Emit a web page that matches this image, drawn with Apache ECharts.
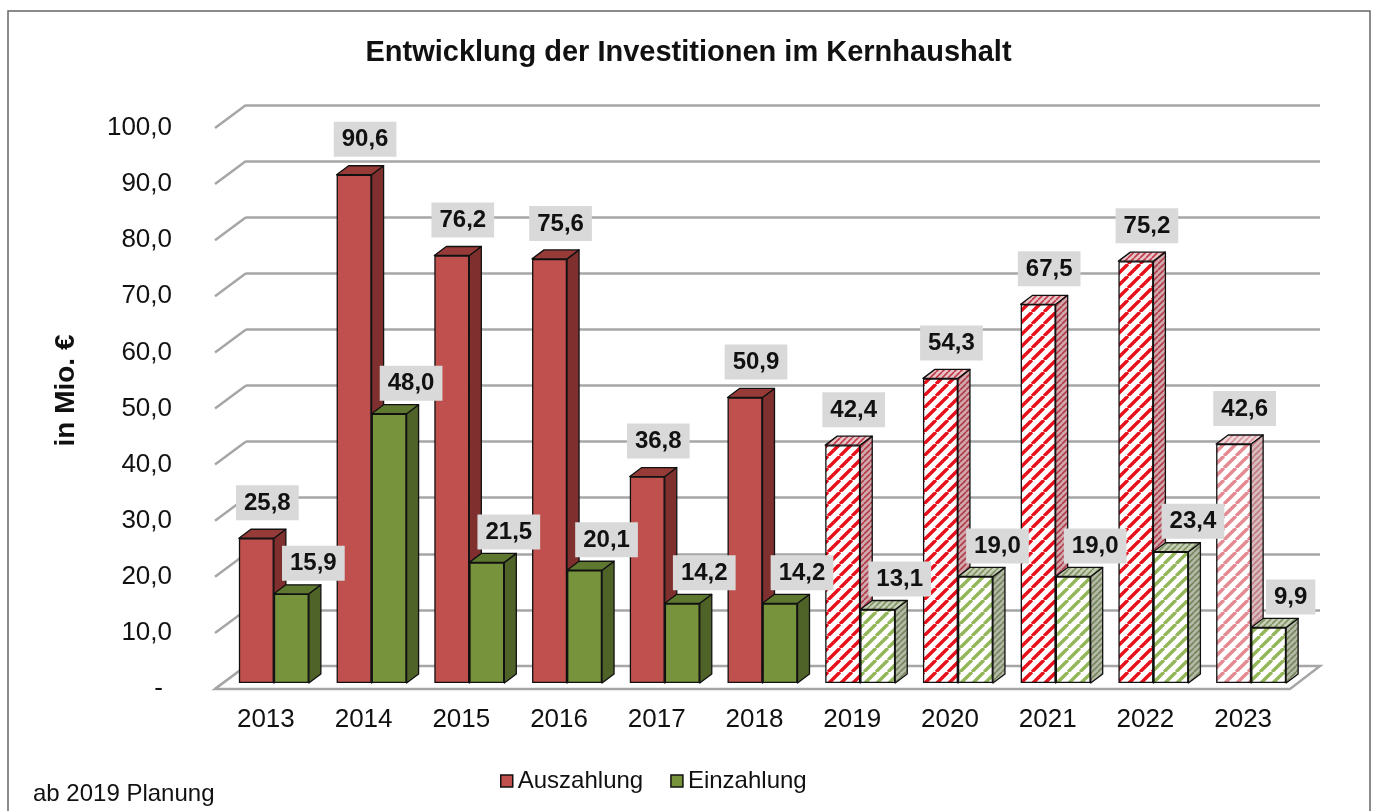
<!DOCTYPE html>
<html>
<head>
<meta charset="utf-8">
<script src="https://cdn.jsdelivr.net/npm/echarts@6/dist/echarts.min.js"></script>
<style>
  html, body { margin: 0; padding: 0; background: #fff; }
  #chart { width: 1377px; height: 811px; }
</style>
</head>
<body>
<div id="chart"></div>
<script>
const years = ['2013', '2014', '2015', '2016', '2017', '2018', '2019', '2020', '2021', '2022', '2023']
const auszahlung = [25.8, 90.6, 76.2, 75.6, 36.8, 50.9, 42.4, 54.3, 67.5, 75.2, 42.6]
const einzahlung = [15.9, 48.0, 21.5, 20.1, 14.2, 14.2, 13.1, 19.0, 19.0, 23.4, 9.9]
const yTicks = [0, 10, 20, 30, 40, 50, 60, 70, 80, 90, 100]
const planFrom = 6   // ab 2019 Planung
const lightIdx = 10  // 2023 heller schraffiert

const font = 'Liberation Sans, Arial, sans-serif'
const barW = 35
const depthX = 12
const depthY = 9

// diagonal hatch as canvas pattern
function hatch(bg, fg, size, lw) {
  const c = document.createElement('canvas')
  c.width = size
  c.height = size
  const ctx = c.getContext('2d')
  ctx.fillStyle = bg
  ctx.fillRect(0, 0, size, size)
  ctx.strokeStyle = fg
  ctx.lineWidth = lw
  ctx.beginPath()
  for (const k of [-size, 0, size]) {
    ctx.moveTo(k, size)
    ctx.lineTo(k + size, 0)
  }
  ctx.stroke()
  return { image: c, repeat: 'repeat' }
}

const colors = {
  red: { front: '#c0504d', side: '#7f302e', top: '#973b38' },
  green: { front: '#77933c', side: '#4f6228', top: '#5f7830' }
}
const hatches = {
  red: {
    front: hatch('#ffffff', '#e8101c', 12, 3.4),
    side: hatch('#cfa9ad', '#b23a48', 6, 1.6),
    top: hatch('#e6c4c8', '#c23a4a', 6, 1.6)
  },
  redLight: {
    front: hatch('#ffffff', '#e48a92', 12, 3.4),
    side: hatch('#d8bcbf', '#bf7a82', 6, 1.6),
    top: hatch('#eed8da', '#d8909a', 6, 1.6)
  },
  green: {
    front: hatch('#ffffff', '#93b659', 12, 3.4),
    side: hatch('#b4b9a6', '#76845e', 6, 1.6),
    top: hatch('#c8ceb8', '#7e9460', 6, 1.6)
  }
}

function styleFor(key, i, part) {
  if (i < planFrom) return colors[key][part]
  if (key === 'red' && i === lightIdx) return hatches.redLight[part]
  return hatches[key][part]
}

function barData(values, key) {
  return values.map((v, i) => ({ value: v, itemStyle: { color: styleFor(key, i, 'front') } }))
}

// side and top face of each bar
function faces(key, shift) {
  return function (params, api) {
    const i = api.value(0)
    const top = api.coord([i, api.value(1)])
    const base = api.coord([i, 0])
    const x0 = top[0] + shift
    const x1 = x0 + barW
    const stroke = { stroke: '#111', lineWidth: 1.3, lineJoin: 'round' }
    return {
      type: 'group',
      children: [
        {
          type: 'polygon',
          shape: { points: [[x1, top[1]], [x1 + depthX, top[1] - depthY], [x1 + depthX, base[1] - depthY], [x1, base[1]]] },
          style: Object.assign({ fill: styleFor(key, i, 'side') }, stroke)
        },
        {
          type: 'polygon',
          shape: { points: [[x0, top[1]], [x0 + depthX, top[1] - depthY], [x1 + depthX, top[1] - depthY], [x1, top[1]]] },
          style: Object.assign({ fill: styleFor(key, i, 'top') }, stroke)
        }
      ]
    }
  }
}

const labelBox = {
  show: true,
  position: 'top',
  formatter: p => p.value.toFixed(1).replace('.', ','),
  fontFamily: font,
  fontSize: 24,
  fontWeight: 'bold',
  color: '#111',
  backgroundColor: '#d9d9d9',
  padding: [6, 8, 5, 8]
}

const chart = echarts.init(document.getElementById('chart'))
chart.setOption({
  animation: false,
  textStyle: { fontFamily: font },
  title: {
    text: 'Entwicklung der Investitionen im Kernhaushalt',
    left: 'center',
    top: 33,
    textStyle: { fontFamily: font, fontSize: 29, fontWeight: 'bold', color: '#111' }
  },
  legend: {
    data: ['Auszahlung', 'Einzahlung'],
    left: 495,
    top: 764,
    itemWidth: 12,
    itemHeight: 12,
    itemGap: 27,
    icon: 'rect',
    itemStyle: { borderColor: '#111', borderWidth: 1.5 },
    textStyle: { fontFamily: font, fontSize: 24, color: '#111' }
  },
  graphic: [
    {
      type: 'rect',
      shape: { x: 8, y: 11, width: 1362, height: 830 },
      style: { fill: 'none', stroke: '#666', lineWidth: 1.5 },
      silent: true
    },
    {
      type: 'text',
      left: 33,
      top: 782,
      style: { text: 'ab 2019 Planung', fontFamily: font, fontSize: 24, fill: '#111' }
    }
  ],
  grid: [
    { left: 225, right: 77, top: 122, bottom: 128 },
    { left: 246, right: 57, top: 105, bottom: 145 }
  ],
  xAxis: [
    {
      type: 'category',
      gridIndex: 0,
      data: years,
      axisLine: { show: false },
      axisTick: { show: false },
      axisLabel: { margin: 24, fontSize: 26, color: '#111', padding: [0, 16, 0, 0] }
    },
    { type: 'value', gridIndex: 1, min: 0, max: 1, show: false }
  ],
  yAxis: [
    {
      type: 'value',
      gridIndex: 0,
      min: 0,
      max: 100,
      interval: 10,
      name: 'in Mio. €',
      nameLocation: 'middle',
      nameRotate: 90,
      nameGap: 145,
      nameTextStyle: { fontFamily: font, fontSize: 28, fontWeight: 'bold', color: '#111', padding: [0, 0, 0, 24] },
      axisLine: { show: false },
      axisTick: { show: false },
      splitLine: { show: false },
      axisLabel: {
        margin: 53,
        fontSize: 26,
        color: '#111',
        padding: [12, 0, 0, 0],
        formatter: v => (v === 0 ? '{d|-}' : v.toFixed(1).replace('.', ',')),
        rich: { d: { fontSize: 26, color: '#111', padding: [0, 9, 0, 0] } }
      }
    },
    {
      type: 'value',
      gridIndex: 1,
      min: 0,
      max: 100,
      interval: 10,
      axisLine: { show: false },
      axisTick: { show: false },
      axisLabel: { show: false },
      splitLine: { lineStyle: { color: '#a6a6a6', width: 2.5 } }
    }
  ],
  series: [
    {
      // left wall and floor
      type: 'custom',
      xAxisIndex: 1,
      yAxisIndex: 1,
      silent: true,
      z: 1,
      data: yTicks.map(v => [0, v]),
      renderItem(params, api) {
        const back = api.coord([0, api.value(1)])
        const children = [{
          type: 'line',
          shape: { x1: back[0] - 31, y1: back[1] + 23, x2: back[0], y2: back[1] },
          style: { stroke: '#a6a6a6', lineWidth: 2.5 }
        }]
        if (api.value(1) === 0) {
          const br = api.coord([1, 0])
          children.push({
            type: 'polygon',
            shape: { points: [[back[0], back[1]], [br[0], br[1]], [br[0] - 30, br[1] + 23], [back[0] - 31, back[1] + 23]] },
            style: { fill: '#fff', stroke: '#a6a6a6', lineWidth: 2.5 }
          })
        }
        return { type: 'group', children }
      }
    },
    {
      name: 'Auszahlung',
      type: 'bar',
      barWidth: barW,
      barGap: '0%',
      z: 2,
      itemStyle: { color: colors.red.front, borderColor: '#111', borderWidth: 1.3 },
      label: Object.assign({ offset: [11, 0], distance: 18 }, labelBox),
      data: barData(auszahlung, 'red')
    },
    {
      type: 'custom',
      silent: true,
      z: 3,
      renderItem: faces('red', -barW),
      data: auszahlung.map((v, i) => [i, v])
    },
    {
      name: 'Einzahlung',
      type: 'bar',
      barWidth: barW,
      barGap: '0%',
      z: 4,
      itemStyle: { color: colors.green.front, borderColor: '#111', borderWidth: 1.3 },
      label: Object.assign({ offset: [22, 0], distance: 13 }, labelBox),
      data: barData(einzahlung, 'green')
    },
    {
      type: 'custom',
      silent: true,
      z: 5,
      renderItem: faces('green', 0),
      data: einzahlung.map((v, i) => [i, v])
    }
  ]
})
</script>
</body>
</html>
